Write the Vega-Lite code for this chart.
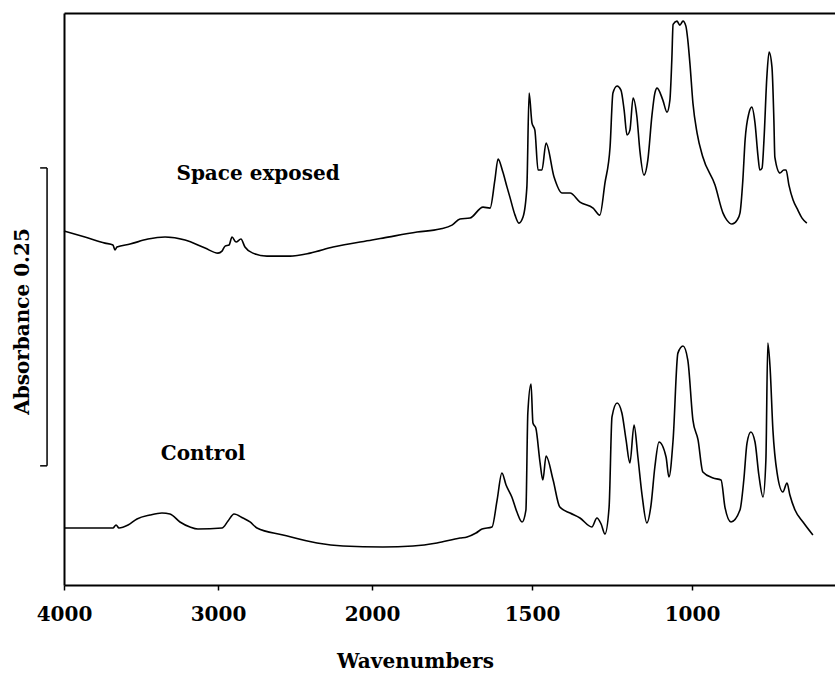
{
  "$schema": "https://vega.github.io/schema/vega-lite/v6.json",
  "width": 771,
  "height": 572,
  "autosize": {"type": "none"},
  "padding": {"left": 64, "top": 13, "right": 0, "bottom": 88},
  "background": "white",
  "config": {"view": {"stroke": null}, "font": "DejaVu Serif"},
  "datasets": {
    "spectra": [
      {"sample": "Space exposed", "wavenumber": 4000, "absorbance": 0.2970},
      {"sample": "Space exposed", "wavenumber": 3864, "absorbance": 0.2920},
      {"sample": "Space exposed", "wavenumber": 3734, "absorbance": 0.2869},
      {"sample": "Space exposed", "wavenumber": 3682, "absorbance": 0.2853},
      {"sample": "Space exposed", "wavenumber": 3669, "absorbance": 0.2811},
      {"sample": "Space exposed", "wavenumber": 3656, "absorbance": 0.2836},
      {"sample": "Space exposed", "wavenumber": 3571, "absorbance": 0.2861},
      {"sample": "Space exposed", "wavenumber": 3455, "absorbance": 0.2903},
      {"sample": "Space exposed", "wavenumber": 3344, "absorbance": 0.2920},
      {"sample": "Space exposed", "wavenumber": 3214, "absorbance": 0.2895},
      {"sample": "Space exposed", "wavenumber": 3084, "absorbance": 0.2827},
      {"sample": "Space exposed", "wavenumber": 3000, "absorbance": 0.2785},
      {"sample": "Space exposed", "wavenumber": 2974, "absorbance": 0.2802},
      {"sample": "Space exposed", "wavenumber": 2954, "absorbance": 0.2844},
      {"sample": "Space exposed", "wavenumber": 2928, "absorbance": 0.2853},
      {"sample": "Space exposed", "wavenumber": 2909, "absorbance": 0.2920},
      {"sample": "Space exposed", "wavenumber": 2883, "absorbance": 0.2878},
      {"sample": "Space exposed", "wavenumber": 2851, "absorbance": 0.2903},
      {"sample": "Space exposed", "wavenumber": 2825, "absorbance": 0.2836},
      {"sample": "Space exposed", "wavenumber": 2773, "absorbance": 0.2785},
      {"sample": "Space exposed", "wavenumber": 2682, "absorbance": 0.2760},
      {"sample": "Space exposed", "wavenumber": 2532, "absorbance": 0.2760},
      {"sample": "Space exposed", "wavenumber": 2402, "absorbance": 0.2785},
      {"sample": "Space exposed", "wavenumber": 2253, "absorbance": 0.2836},
      {"sample": "Space exposed", "wavenumber": 2000, "absorbance": 0.2895},
      {"sample": "Space exposed", "wavenumber": 1966, "absorbance": 0.2911},
      {"sample": "Space exposed", "wavenumber": 1859, "absorbance": 0.2962},
      {"sample": "Space exposed", "wavenumber": 1788, "absorbance": 0.2987},
      {"sample": "Space exposed", "wavenumber": 1750, "absorbance": 0.3020},
      {"sample": "Space exposed", "wavenumber": 1725, "absorbance": 0.3071},
      {"sample": "Space exposed", "wavenumber": 1694, "absorbance": 0.3079},
      {"sample": "Space exposed", "wavenumber": 1653, "absorbance": 0.3171},
      {"sample": "Space exposed", "wavenumber": 1631, "absorbance": 0.3163},
      {"sample": "Space exposed", "wavenumber": 1616, "absorbance": 0.3398},
      {"sample": "Space exposed", "wavenumber": 1606, "absorbance": 0.3574},
      {"sample": "Space exposed", "wavenumber": 1591, "absorbance": 0.3465},
      {"sample": "Space exposed", "wavenumber": 1578, "absorbance": 0.3339},
      {"sample": "Space exposed", "wavenumber": 1569, "absorbance": 0.3255},
      {"sample": "Space exposed", "wavenumber": 1553, "absorbance": 0.3104},
      {"sample": "Space exposed", "wavenumber": 1541, "absorbance": 0.3037},
      {"sample": "Space exposed", "wavenumber": 1528, "absorbance": 0.3088},
      {"sample": "Space exposed", "wavenumber": 1516, "absorbance": 0.3339},
      {"sample": "Space exposed", "wavenumber": 1509, "absorbance": 0.4128},
      {"sample": "Space exposed", "wavenumber": 1500, "absorbance": 0.3876},
      {"sample": "Space exposed", "wavenumber": 1491, "absorbance": 0.3817},
      {"sample": "Space exposed", "wavenumber": 1481, "absorbance": 0.3482},
      {"sample": "Space exposed", "wavenumber": 1469, "absorbance": 0.3482},
      {"sample": "Space exposed", "wavenumber": 1456, "absorbance": 0.3708},
      {"sample": "Space exposed", "wavenumber": 1431, "absorbance": 0.3423},
      {"sample": "Space exposed", "wavenumber": 1406, "absorbance": 0.3289},
      {"sample": "Space exposed", "wavenumber": 1381, "absorbance": 0.3289},
      {"sample": "Space exposed", "wavenumber": 1350, "absorbance": 0.3213},
      {"sample": "Space exposed", "wavenumber": 1309, "absorbance": 0.3163},
      {"sample": "Space exposed", "wavenumber": 1288, "absorbance": 0.3104},
      {"sample": "Space exposed", "wavenumber": 1272, "absorbance": 0.3373},
      {"sample": "Space exposed", "wavenumber": 1256, "absorbance": 0.3675},
      {"sample": "Space exposed", "wavenumber": 1247, "absorbance": 0.4128},
      {"sample": "Space exposed", "wavenumber": 1234, "absorbance": 0.4187},
      {"sample": "Space exposed", "wavenumber": 1222, "absorbance": 0.4153},
      {"sample": "Space exposed", "wavenumber": 1212, "absorbance": 0.3985},
      {"sample": "Space exposed", "wavenumber": 1203, "absorbance": 0.3776},
      {"sample": "Space exposed", "wavenumber": 1194, "absorbance": 0.3817},
      {"sample": "Space exposed", "wavenumber": 1184, "absorbance": 0.4086},
      {"sample": "Space exposed", "wavenumber": 1172, "absorbance": 0.3927},
      {"sample": "Space exposed", "wavenumber": 1163, "absorbance": 0.3650},
      {"sample": "Space exposed", "wavenumber": 1150, "absorbance": 0.3440},
      {"sample": "Space exposed", "wavenumber": 1138, "absorbance": 0.3566},
      {"sample": "Space exposed", "wavenumber": 1125, "absorbance": 0.3943},
      {"sample": "Space exposed", "wavenumber": 1116, "absorbance": 0.4128},
      {"sample": "Space exposed", "wavenumber": 1109, "absorbance": 0.4170},
      {"sample": "Space exposed", "wavenumber": 1091, "absorbance": 0.4069},
      {"sample": "Space exposed", "wavenumber": 1078, "absorbance": 0.3968},
      {"sample": "Space exposed", "wavenumber": 1069, "absorbance": 0.4069},
      {"sample": "Space exposed", "wavenumber": 1063, "absorbance": 0.4405},
      {"sample": "Space exposed", "wavenumber": 1059, "absorbance": 0.4705},
      {"sample": "Space exposed", "wavenumber": 1047, "absorbance": 0.4732},
      {"sample": "Space exposed", "wavenumber": 1038, "absorbance": 0.4698},
      {"sample": "Space exposed", "wavenumber": 1028, "absorbance": 0.4732},
      {"sample": "Space exposed", "wavenumber": 1019, "absorbance": 0.4690},
      {"sample": "Space exposed", "wavenumber": 1013, "absorbance": 0.4573},
      {"sample": "Space exposed", "wavenumber": 1006, "absorbance": 0.4363},
      {"sample": "Space exposed", "wavenumber": 997, "absorbance": 0.4044},
      {"sample": "Space exposed", "wavenumber": 984, "absorbance": 0.3792},
      {"sample": "Space exposed", "wavenumber": 966, "absorbance": 0.3591},
      {"sample": "Space exposed", "wavenumber": 928, "absorbance": 0.3356},
      {"sample": "Space exposed", "wavenumber": 903, "absorbance": 0.3121},
      {"sample": "Space exposed", "wavenumber": 891, "absorbance": 0.3062},
      {"sample": "Space exposed", "wavenumber": 875, "absorbance": 0.3029},
      {"sample": "Space exposed", "wavenumber": 859, "absorbance": 0.3062},
      {"sample": "Space exposed", "wavenumber": 850, "absorbance": 0.3121},
      {"sample": "Space exposed", "wavenumber": 841, "absorbance": 0.3398},
      {"sample": "Space exposed", "wavenumber": 834, "absorbance": 0.3733},
      {"sample": "Space exposed", "wavenumber": 822, "absorbance": 0.3960},
      {"sample": "Space exposed", "wavenumber": 813, "absorbance": 0.4010},
      {"sample": "Space exposed", "wavenumber": 803, "absorbance": 0.3876},
      {"sample": "Space exposed", "wavenumber": 794, "absorbance": 0.3608},
      {"sample": "Space exposed", "wavenumber": 788, "absorbance": 0.3482},
      {"sample": "Space exposed", "wavenumber": 781, "absorbance": 0.3499},
      {"sample": "Space exposed", "wavenumber": 775, "absorbance": 0.3733},
      {"sample": "Space exposed", "wavenumber": 766, "absorbance": 0.4262},
      {"sample": "Space exposed", "wavenumber": 759, "absorbance": 0.4472},
      {"sample": "Space exposed", "wavenumber": 750, "absorbance": 0.4346},
      {"sample": "Space exposed", "wavenumber": 744, "absorbance": 0.3901},
      {"sample": "Space exposed", "wavenumber": 741, "absorbance": 0.3591},
      {"sample": "Space exposed", "wavenumber": 725, "absorbance": 0.3457},
      {"sample": "Space exposed", "wavenumber": 713, "absorbance": 0.3482},
      {"sample": "Space exposed", "wavenumber": 706, "absorbance": 0.3482},
      {"sample": "Space exposed", "wavenumber": 697, "absorbance": 0.3356},
      {"sample": "Space exposed", "wavenumber": 684, "absorbance": 0.3230},
      {"sample": "Space exposed", "wavenumber": 669, "absorbance": 0.3146},
      {"sample": "Space exposed", "wavenumber": 656, "absorbance": 0.3079},
      {"sample": "Space exposed", "wavenumber": 641, "absorbance": 0.3037},
      {"sample": "Control", "wavenumber": 4000, "absorbance": 0.0478},
      {"sample": "Control", "wavenumber": 3682, "absorbance": 0.0478},
      {"sample": "Control", "wavenumber": 3662, "absorbance": 0.0503},
      {"sample": "Control", "wavenumber": 3643, "absorbance": 0.0478},
      {"sample": "Control", "wavenumber": 3584, "absorbance": 0.0503},
      {"sample": "Control", "wavenumber": 3526, "absorbance": 0.0554},
      {"sample": "Control", "wavenumber": 3442, "absorbance": 0.0587},
      {"sample": "Control", "wavenumber": 3364, "absorbance": 0.0604},
      {"sample": "Control", "wavenumber": 3312, "absorbance": 0.0596},
      {"sample": "Control", "wavenumber": 3247, "absorbance": 0.0529},
      {"sample": "Control", "wavenumber": 3182, "absorbance": 0.0487},
      {"sample": "Control", "wavenumber": 3130, "absorbance": 0.0470},
      {"sample": "Control", "wavenumber": 2974, "absorbance": 0.0478},
      {"sample": "Control", "wavenumber": 2935, "absorbance": 0.0537},
      {"sample": "Control", "wavenumber": 2896, "absorbance": 0.0596},
      {"sample": "Control", "wavenumber": 2838, "absorbance": 0.0562},
      {"sample": "Control", "wavenumber": 2792, "absorbance": 0.0529},
      {"sample": "Control", "wavenumber": 2747, "absorbance": 0.0478},
      {"sample": "Control", "wavenumber": 2578, "absorbance": 0.0420},
      {"sample": "Control", "wavenumber": 2357, "absorbance": 0.0352},
      {"sample": "Control", "wavenumber": 2188, "absorbance": 0.0327},
      {"sample": "Control", "wavenumber": 1966, "absorbance": 0.0319},
      {"sample": "Control", "wavenumber": 1872, "absorbance": 0.0327},
      {"sample": "Control", "wavenumber": 1797, "absorbance": 0.0352},
      {"sample": "Control", "wavenumber": 1725, "absorbance": 0.0394},
      {"sample": "Control", "wavenumber": 1703, "absorbance": 0.0403},
      {"sample": "Control", "wavenumber": 1675, "absorbance": 0.0436},
      {"sample": "Control", "wavenumber": 1656, "absorbance": 0.0470},
      {"sample": "Control", "wavenumber": 1625, "absorbance": 0.0487},
      {"sample": "Control", "wavenumber": 1609, "absorbance": 0.0713},
      {"sample": "Control", "wavenumber": 1594, "absorbance": 0.0940},
      {"sample": "Control", "wavenumber": 1581, "absorbance": 0.0839},
      {"sample": "Control", "wavenumber": 1563, "absorbance": 0.0738},
      {"sample": "Control", "wavenumber": 1547, "absorbance": 0.0612},
      {"sample": "Control", "wavenumber": 1531, "absorbance": 0.0529},
      {"sample": "Control", "wavenumber": 1519, "absorbance": 0.0629},
      {"sample": "Control", "wavenumber": 1513, "absorbance": 0.1443},
      {"sample": "Control", "wavenumber": 1503, "absorbance": 0.1686},
      {"sample": "Control", "wavenumber": 1497, "absorbance": 0.1359},
      {"sample": "Control", "wavenumber": 1488, "absorbance": 0.1317},
      {"sample": "Control", "wavenumber": 1475, "absorbance": 0.1032},
      {"sample": "Control", "wavenumber": 1466, "absorbance": 0.0881},
      {"sample": "Control", "wavenumber": 1456, "absorbance": 0.1082},
      {"sample": "Control", "wavenumber": 1434, "absorbance": 0.0881},
      {"sample": "Control", "wavenumber": 1413, "absorbance": 0.0654},
      {"sample": "Control", "wavenumber": 1381, "absorbance": 0.0604},
      {"sample": "Control", "wavenumber": 1350, "absorbance": 0.0562},
      {"sample": "Control", "wavenumber": 1313, "absorbance": 0.0487},
      {"sample": "Control", "wavenumber": 1297, "absorbance": 0.0562},
      {"sample": "Control", "wavenumber": 1284, "absorbance": 0.0512},
      {"sample": "Control", "wavenumber": 1272, "absorbance": 0.0428},
      {"sample": "Control", "wavenumber": 1259, "absorbance": 0.0654},
      {"sample": "Control", "wavenumber": 1250, "absorbance": 0.1410},
      {"sample": "Control", "wavenumber": 1234, "absorbance": 0.1527},
      {"sample": "Control", "wavenumber": 1219, "absorbance": 0.1443},
      {"sample": "Control", "wavenumber": 1206, "absorbance": 0.1217},
      {"sample": "Control", "wavenumber": 1194, "absorbance": 0.1024},
      {"sample": "Control", "wavenumber": 1181, "absorbance": 0.1342},
      {"sample": "Control", "wavenumber": 1169, "absorbance": 0.1074},
      {"sample": "Control", "wavenumber": 1156, "absorbance": 0.0755},
      {"sample": "Control", "wavenumber": 1141, "absorbance": 0.0520},
      {"sample": "Control", "wavenumber": 1128, "absorbance": 0.0671},
      {"sample": "Control", "wavenumber": 1116, "absorbance": 0.0990},
      {"sample": "Control", "wavenumber": 1103, "absorbance": 0.1200},
      {"sample": "Control", "wavenumber": 1081, "absorbance": 0.1074},
      {"sample": "Control", "wavenumber": 1072, "absorbance": 0.0906},
      {"sample": "Control", "wavenumber": 1059, "absorbance": 0.1217},
      {"sample": "Control", "wavenumber": 1044, "absorbance": 0.1946},
      {"sample": "Control", "wavenumber": 1028, "absorbance": 0.2005},
      {"sample": "Control", "wavenumber": 1013, "absorbance": 0.1888},
      {"sample": "Control", "wavenumber": 997, "absorbance": 0.1384},
      {"sample": "Control", "wavenumber": 981, "absorbance": 0.1217},
      {"sample": "Control", "wavenumber": 966, "absorbance": 0.0948},
      {"sample": "Control", "wavenumber": 934, "absorbance": 0.0898},
      {"sample": "Control", "wavenumber": 909, "absorbance": 0.0881},
      {"sample": "Control", "wavenumber": 897, "absorbance": 0.0654},
      {"sample": "Control", "wavenumber": 878, "absorbance": 0.0529},
      {"sample": "Control", "wavenumber": 850, "absorbance": 0.0629},
      {"sample": "Control", "wavenumber": 838, "absorbance": 0.0881},
      {"sample": "Control", "wavenumber": 828, "absorbance": 0.1191},
      {"sample": "Control", "wavenumber": 816, "absorbance": 0.1284},
      {"sample": "Control", "wavenumber": 803, "absorbance": 0.1200},
      {"sample": "Control", "wavenumber": 791, "absorbance": 0.0923},
      {"sample": "Control", "wavenumber": 778, "absorbance": 0.0738},
      {"sample": "Control", "wavenumber": 769, "absorbance": 0.1049},
      {"sample": "Control", "wavenumber": 763, "absorbance": 0.2030},
      {"sample": "Control", "wavenumber": 756, "absorbance": 0.1829},
      {"sample": "Control", "wavenumber": 747, "absorbance": 0.1300},
      {"sample": "Control", "wavenumber": 734, "absorbance": 0.0940},
      {"sample": "Control", "wavenumber": 716, "absorbance": 0.0780},
      {"sample": "Control", "wavenumber": 703, "absorbance": 0.0856},
      {"sample": "Control", "wavenumber": 694, "absorbance": 0.0755},
      {"sample": "Control", "wavenumber": 678, "absorbance": 0.0629},
      {"sample": "Control", "wavenumber": 653, "absorbance": 0.0529},
      {"sample": "Control", "wavenumber": 622, "absorbance": 0.0420}
    ],
    "scalebar": [
      {"x1": 4110, "x2": 4110, "y1": 0.10, "y2": 0.35},
      {"x1": 4155, "x2": 4110, "y1": 0.35, "y2": 0.35},
      {"x1": 4155, "x2": 4110, "y1": 0.10, "y2": 0.10}
    ],
    "labels": [
      {"label": "Space exposed", "wavenumber": 2740, "absorbance": 0.340},
      {"label": "Control", "wavenumber": 3097, "absorbance": 0.105}
    ]
  },
  "layer": [
    {
      "data": {"name": "spectra"},
      "mark": {"type": "line", "interpolate": "monotone", "color": "black", "strokeWidth": 1.6},
      "encoding": {
        "x": {
          "field": "wavenumber", "type": "quantitative",
          "scale": {"domain": [4000, 2000, 553], "range": [0, 308, 771], "nice": false, "zero": false},
          "axis": {
            "values": [4000, 3000, 2000, 1500, 1000], "format": "d", "grid": false,
            "domainWidth": 2, "domainColor": "black", "tickColor": "black", "tickSize": 5, "tickWidth": 1.5,
            "labelFont": "DejaVu Serif", "labelFontWeight": "bold", "labelFontSize": 20, "labelColor": "black",
            "labelPadding": 14, "labelFlush": false, "labelOverlap": false,
            "title": "Wavenumbers", "titleFont": "DejaVu Serif", "titleFontWeight": "bold", "titleFontSize": 20,
            "titleColor": "black", "titleX": 351, "titleY": 82, "titleBaseline": "alphabetic", "titleAlign": "center"
          }
        },
        "y": {
          "field": "absorbance", "type": "quantitative",
          "scale": {"domain": [0, 0.48], "nice": false, "zero": false},
          "axis": {
            "labels": false, "ticks": false, "grid": false, "domain": true, "domainWidth": 2, "domainColor": "black",
            "title": "Absorbance 0.25", "titleFont": "DejaVu Serif", "titleFontWeight": "bold", "titleFontSize": 20,
            "titleColor": "black", "titleX": -36, "titleY": 308, "titleAngle": -90, "titleBaseline": "alphabetic", "titleAlign": "center"
          }
        },
        "detail": {"field": "sample"}
      }
    },
    {
      "data": {"name": "scalebar"},
      "mark": {"type": "rule", "color": "black", "strokeWidth": 1.5},
      "encoding": {
        "x": {"field": "x1", "type": "quantitative",
              "axis": {"orient": "top", "labels": false, "ticks": false, "grid": false, "title": null, "domain": true, "domainWidth": 2, "domainColor": "black"}},
        "x2": {"field": "x2"},
        "y": {"field": "y1", "type": "quantitative", "axis": null},
        "y2": {"field": "y2"}
      }
    },
    {
      "data": {"name": "labels"},
      "mark": {"type": "text", "font": "DejaVu Serif", "fontWeight": "bold", "fontSize": 20, "align": "center", "baseline": "alphabetic", "color": "black"},
      "encoding": {
        "x": {"field": "wavenumber", "type": "quantitative", "axis": null},
        "y": {"field": "absorbance", "type": "quantitative", "axis": null},
        "text": {"field": "label"}
      }
    }
  ],
  "resolve": {"axis": {"x": "independent", "y": "independent"}}
}
